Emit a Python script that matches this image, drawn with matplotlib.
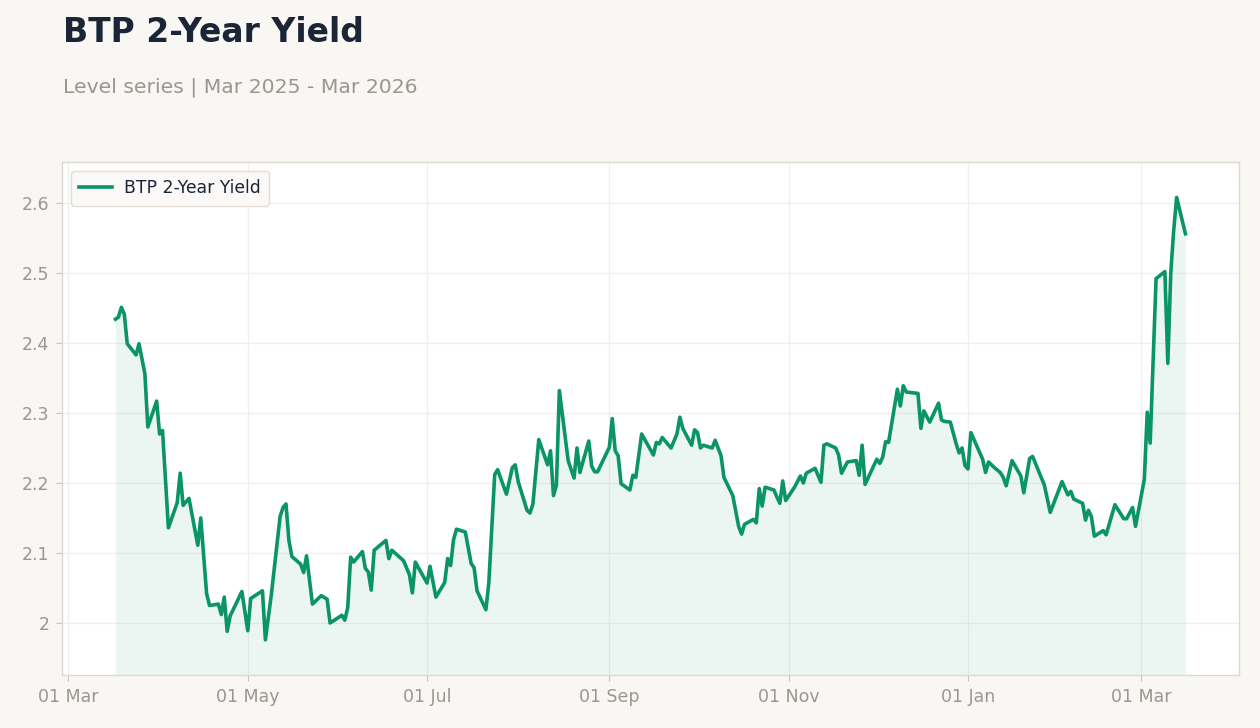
#!/usr/bin/env python3
"""
Plot the BTP 2-year yield level series.
"""
import matplotlib
matplotlib.use('Agg')
import matplotlib.pyplot as plt
import matplotlib.dates as mdates
import pandas as pd

# Values
dates = [
    '2025-03-17', '2025-03-18', '2025-03-19', '2025-03-20', '2025-03-21',
    '2025-03-24', '2025-03-25', '2025-03-27', '2025-03-28', '2025-03-31',
    '2025-04-01', '2025-04-02', '2025-04-04', '2025-04-07', '2025-04-08',
    '2025-04-09', '2025-04-11', '2025-04-14', '2025-04-15', '2025-04-17',
    '2025-04-18', '2025-04-21', '2025-04-22', '2025-04-23', '2025-04-24',
    '2025-04-25', '2025-04-29', '2025-05-01', '2025-05-02', '2025-05-06',
    '2025-05-07', '2025-05-09', '2025-05-12', '2025-05-13', '2025-05-14',
    '2025-05-15', '2025-05-16', '2025-05-19', '2025-05-20', '2025-05-21',
    '2025-05-23', '2025-05-26', '2025-05-28', '2025-05-29', '2025-06-02',
    '2025-06-03', '2025-06-04', '2025-06-05', '2025-06-06', '2025-06-09',
    '2025-06-10', '2025-06-11', '2025-06-12', '2025-06-13', '2025-06-17',
    '2025-06-18', '2025-06-19', '2025-06-23', '2025-06-25', '2025-06-26',
    '2025-06-27', '2025-07-01', '2025-07-02', '2025-07-04', '2025-07-07',
    '2025-07-08', '2025-07-09', '2025-07-10', '2025-07-11', '2025-07-14',
    '2025-07-16', '2025-07-17', '2025-07-18', '2025-07-21', '2025-07-22',
    '2025-07-24', '2025-07-25', '2025-07-28', '2025-07-30', '2025-07-31',
    '2025-08-01', '2025-08-04', '2025-08-05', '2025-08-06', '2025-08-08',
    '2025-08-11', '2025-08-12', '2025-08-13', '2025-08-14', '2025-08-15',
    '2025-08-18', '2025-08-20', '2025-08-21', '2025-08-22', '2025-08-25',
    '2025-08-26', '2025-08-27', '2025-08-28', '2025-09-01', '2025-09-02',
    '2025-09-03', '2025-09-04', '2025-09-05', '2025-09-08', '2025-09-09',
    '2025-09-10', '2025-09-12', '2025-09-16', '2025-09-17', '2025-09-18',
    '2025-09-19', '2025-09-22', '2025-09-24', '2025-09-25', '2025-09-26',
    '2025-09-29', '2025-09-30', '2025-10-01', '2025-10-02', '2025-10-03',
    '2025-10-06', '2025-10-07', '2025-10-09', '2025-10-10', '2025-10-13',
    '2025-10-15', '2025-10-16', '2025-10-17', '2025-10-20', '2025-10-21',
    '2025-10-22', '2025-10-23', '2025-10-24', '2025-10-27', '2025-10-28',
    '2025-10-29', '2025-10-30', '2025-10-31', '2025-11-03', '2025-11-05',
    '2025-11-06', '2025-11-07', '2025-11-10', '2025-11-12', '2025-11-13',
    '2025-11-14', '2025-11-17', '2025-11-18', '2025-11-19', '2025-11-21',
    '2025-11-24', '2025-11-25', '2025-11-26', '2025-11-27', '2025-12-01',
    '2025-12-02', '2025-12-03', '2025-12-04', '2025-12-05', '2025-12-08',
    '2025-12-09', '2025-12-10', '2025-12-11', '2025-12-15', '2025-12-16',
    '2025-12-17', '2025-12-19', '2025-12-22', '2025-12-23', '2025-12-24',
    '2025-12-26', '2025-12-28', '2025-12-29', '2025-12-30', '2025-12-31',
    '2026-01-01', '2026-01-02', '2026-01-06', '2026-01-07', '2026-01-08',
    '2026-01-10', '2026-01-12', '2026-01-13', '2026-01-14', '2026-01-16',
    '2026-01-19', '2026-01-20', '2026-01-22', '2026-01-23', '2026-01-27',
    '2026-01-29', '2026-02-02', '2026-02-04', '2026-02-05', '2026-02-06',
    '2026-02-09', '2026-02-10', '2026-02-11', '2026-02-12', '2026-02-13',
    '2026-02-16', '2026-02-17', '2026-02-20', '2026-02-23', '2026-02-24',
    '2026-02-26', '2026-02-27', '2026-03-02', '2026-03-03', '2026-03-04',
    '2026-03-06', '2026-03-09', '2026-03-10', '2026-03-11', '2026-03-12',
    '2026-03-13', '2026-03-16',
]
yields = [
    2.434, 2.437, 2.451, 2.441, 2.399,
    2.383, 2.399, 2.356, 2.280, 2.317,
    2.270, 2.275, 2.136, 2.172, 2.214,
    2.168, 2.178, 2.111, 2.150, 2.042,
    2.025, 2.027, 2.012, 2.037, 1.988,
    2.010, 2.045, 1.989, 2.035, 2.046,
    1.976, 2.040, 2.152, 2.165, 2.170,
    2.118, 2.095, 2.084, 2.072, 2.096,
    2.027, 2.039, 2.034, 2.000, 2.011,
    2.004, 2.022, 2.094, 2.087, 2.102,
    2.078, 2.073, 2.047, 2.104, 2.118,
    2.092, 2.104, 2.089, 2.069, 2.043,
    2.087, 2.057, 2.081, 2.037, 2.058,
    2.092, 2.082, 2.119, 2.134, 2.130,
    2.085, 2.079, 2.046, 2.019, 2.057,
    2.212, 2.219, 2.184, 2.222, 2.226,
    2.202, 2.161, 2.157, 2.170, 2.262,
    2.226, 2.246, 2.182, 2.197, 2.332,
    2.232, 2.207, 2.250, 2.215, 2.260,
    2.224, 2.216, 2.216, 2.251, 2.292,
    2.246, 2.239, 2.199, 2.190, 2.211,
    2.208, 2.270, 2.240, 2.258, 2.256,
    2.265, 2.250, 2.270, 2.294, 2.278,
    2.254, 2.276, 2.272, 2.250, 2.254,
    2.250, 2.261, 2.239, 2.208, 2.182,
    2.138, 2.127, 2.141, 2.148, 2.143,
    2.192, 2.167, 2.194, 2.190, 2.180,
    2.171, 2.203, 2.175, 2.194, 2.210,
    2.200, 2.214, 2.221, 2.201, 2.254,
    2.256, 2.250, 2.240, 2.214, 2.230,
    2.232, 2.211, 2.254, 2.198, 2.234,
    2.228, 2.237, 2.259, 2.258, 2.334,
    2.310, 2.339, 2.330, 2.328, 2.278,
    2.303, 2.287, 2.314, 2.290, 2.288,
    2.287, 2.256, 2.243, 2.250, 2.225,
    2.220, 2.272, 2.234, 2.215, 2.230,
    2.222, 2.215, 2.208, 2.196, 2.232,
    2.210, 2.186, 2.235, 2.238, 2.197,
    2.158, 2.202, 2.183, 2.188, 2.177,
    2.171, 2.147, 2.161, 2.152, 2.124,
    2.132, 2.126, 2.169, 2.149, 2.149,
    2.165, 2.138, 2.205, 2.301, 2.257,
    2.492, 2.502, 2.371, 2.500, 2.561,
    2.608, 2.556,
]
series_name = 'BTP 2-Year Yield'
title = 'BTP 2-Year Yield'
subtitle = 'Level series | Mar 2025 - Mar 2026'
y_ticks = [2.0, 2.1, 2.2, 2.3, 2.4, 2.5, 2.6]

LINE_COLOR = '#0b9467'
TEXT_DARK = '#1b2536'
TEXT_GREY = '#9a9690'
BG = '#f8f7f4'

plt.rcParams['font.family'] = ['DejaVu Sans']

x = pd.to_datetime(dates)

fig = plt.figure(figsize=(12.6, 7.28), dpi=100, facecolor=BG)
ax = fig.add_axes([0.0492, 0.0728, 0.9341, 0.7047])
ax.set_facecolor('white')

y_bottom, y_top = 1.9257, 2.6586

ax.fill_between(x, yields, y_bottom, color=LINE_COLOR, alpha=0.08, linewidth=0)
ax.plot(x, yields, color=LINE_COLOR, linewidth=2.6, label=series_name)

ax.set_ylim(y_bottom, y_top)
ax.set_yticks(y_ticks)
ax.set_yticklabels([f'{v:g}' for v in y_ticks])

ax.xaxis.set_major_locator(mdates.MonthLocator(bymonth=[1, 3, 5, 7, 9, 11]))
ax.xaxis.set_major_formatter(mdates.DateFormatter('%d %b'))

ax.grid(True, color='#efefef', linewidth=0.9)
ax.set_axisbelow(True)
for side in ax.spines.values():
    side.set_color('#ddd8d0')
    side.set_linewidth(1.0)
ax.tick_params(axis='both', colors='#c9c4bc', labelcolor=TEXT_GREY,
               labelsize=12.5, length=4, pad=5)

leg = ax.legend(loc='upper left', fontsize=12.4, frameon=True,
                facecolor='#faf9f7', edgecolor='#e2ddd5', framealpha=1.0,
                borderpad=0.5, handlelength=1.9, handletextpad=0.7)
for t in leg.get_texts():
    t.set_color(TEXT_DARK)

fig.text(0.05, 0.942, title, fontsize=23.8, fontweight='bold', color=TEXT_DARK,
         ha='left', va='baseline')
fig.text(0.05, 0.873, subtitle, fontsize=14.7, color=TEXT_GREY,
         ha='left', va='baseline')

fig.savefig('out.png', dpi=100, facecolor=BG)
